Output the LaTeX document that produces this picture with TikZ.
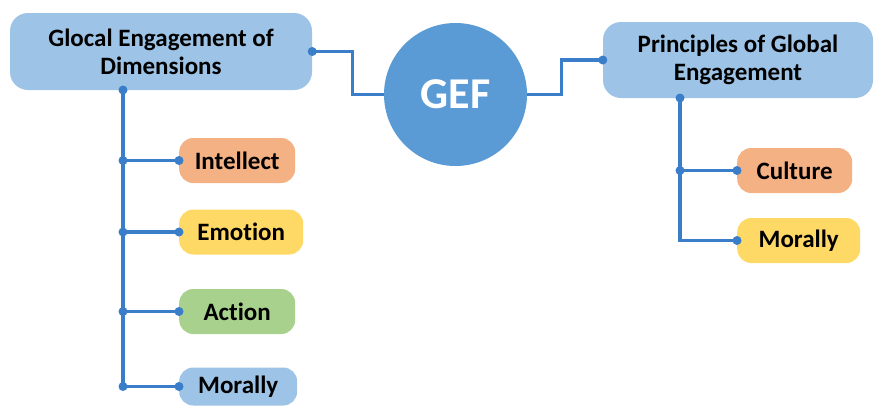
\documentclass[tikz,border=0pt]{standalone}
\usepackage{fontspec}
\setmainfont{Carlito}[Ligatures=CommonOff]
\usepackage{xcolor}
\definecolor{c1}{HTML}{9DC3E6}
\definecolor{c2}{HTML}{5B9BD5}
\definecolor{c3}{HTML}{F4B183}
\definecolor{c4}{HTML}{FFD966}
\definecolor{c5}{HTML}{A9D18E}
\definecolor{c6}{HTML}{3A7DC9}

\tikzset{
	box/.style={rounded corners=18pt, fill=c1, align=center, inner sep=0pt,
			font=\fontsize{25}{28}\selectfont\bfseries},
	leaf/.style={box, rounded corners=14pt, anchor=west, minimum height=45pt},
	link/.style={c6, line width=3.2pt}
}

\begin{document}
\begin{tikzpicture}[x=1pt, y=-1pt]
	\clip (0, 0) rectangle (876, 408);

	\node[box, minimum width=302pt, minimum height=77pt] (dims) at (161, 51.5) {Glocal Engagement of\\Dimensions};
	\node[box, minimum width=270pt, minimum height=76pt] (pge) at (738, 60) {Principles of Global\\Engagement};
	\node[circle, fill=c2, minimum size=143pt, text=white,
		font=\fontsize{44}{44}\selectfont\bfseries] (gef) at (455.5, 94.5) {GEF};

	\node[leaf, fill=c3, minimum width=116pt] (intellect) at (179, 160.5) {Intellect};
	\node[leaf, fill=c4, minimum width=124pt] (emotion) at (179, 232) {Emotion};
	\node[leaf, fill=c5, minimum width=116pt] (action) at (179, 311.5) {Action};
	\node[leaf, fill=c1, minimum width=118pt, minimum height=38pt] (moral1) at (179, 386.5) {Morally};

	\node[leaf, fill=c3, minimum width=115pt] (culture) at (737, 170.5) {Culture};
	\node[leaf, fill=c4, minimum width=123pt] (moral2) at (737, 240.5) {Morally};

	\coordinate (lspine) at (123, 90);
	\coordinate (rspine) at (680, 98);

	\draw[link] (dims.east) -- ++(40, 0) |- (gef);
	\draw[link] (pge.west) -- ++(-41, 0) |- (gef);

	\foreach \n in {intellect, emotion, action, moral1}
		\draw[link] (lspine) |- (\n.west);
	\foreach \n in {culture, moral2}
		\draw[link] (rspine) |- (\n.west);

	\def\cs{4.5pt}
	\fill[c6] (dims.east) circle (\cs);
	\fill[c6] (pge.west) circle (\cs);
	\fill[c6] (lspine) circle (\cs);
	\fill[c6] (rspine) circle (\cs);
	\foreach \n in {intellect, emotion, action, moral1} {
			\fill[c6] (\n.west) circle (\cs);
			\fill[c6] (lspine |- \n.west) circle (\cs);
		}
	\foreach \n in {culture, moral2} {
			\fill[c6] (\n.west) circle (\cs);
		}
	\fill[c6] (rspine |- culture.west) circle (\cs);
\end{tikzpicture}
\end{document}
